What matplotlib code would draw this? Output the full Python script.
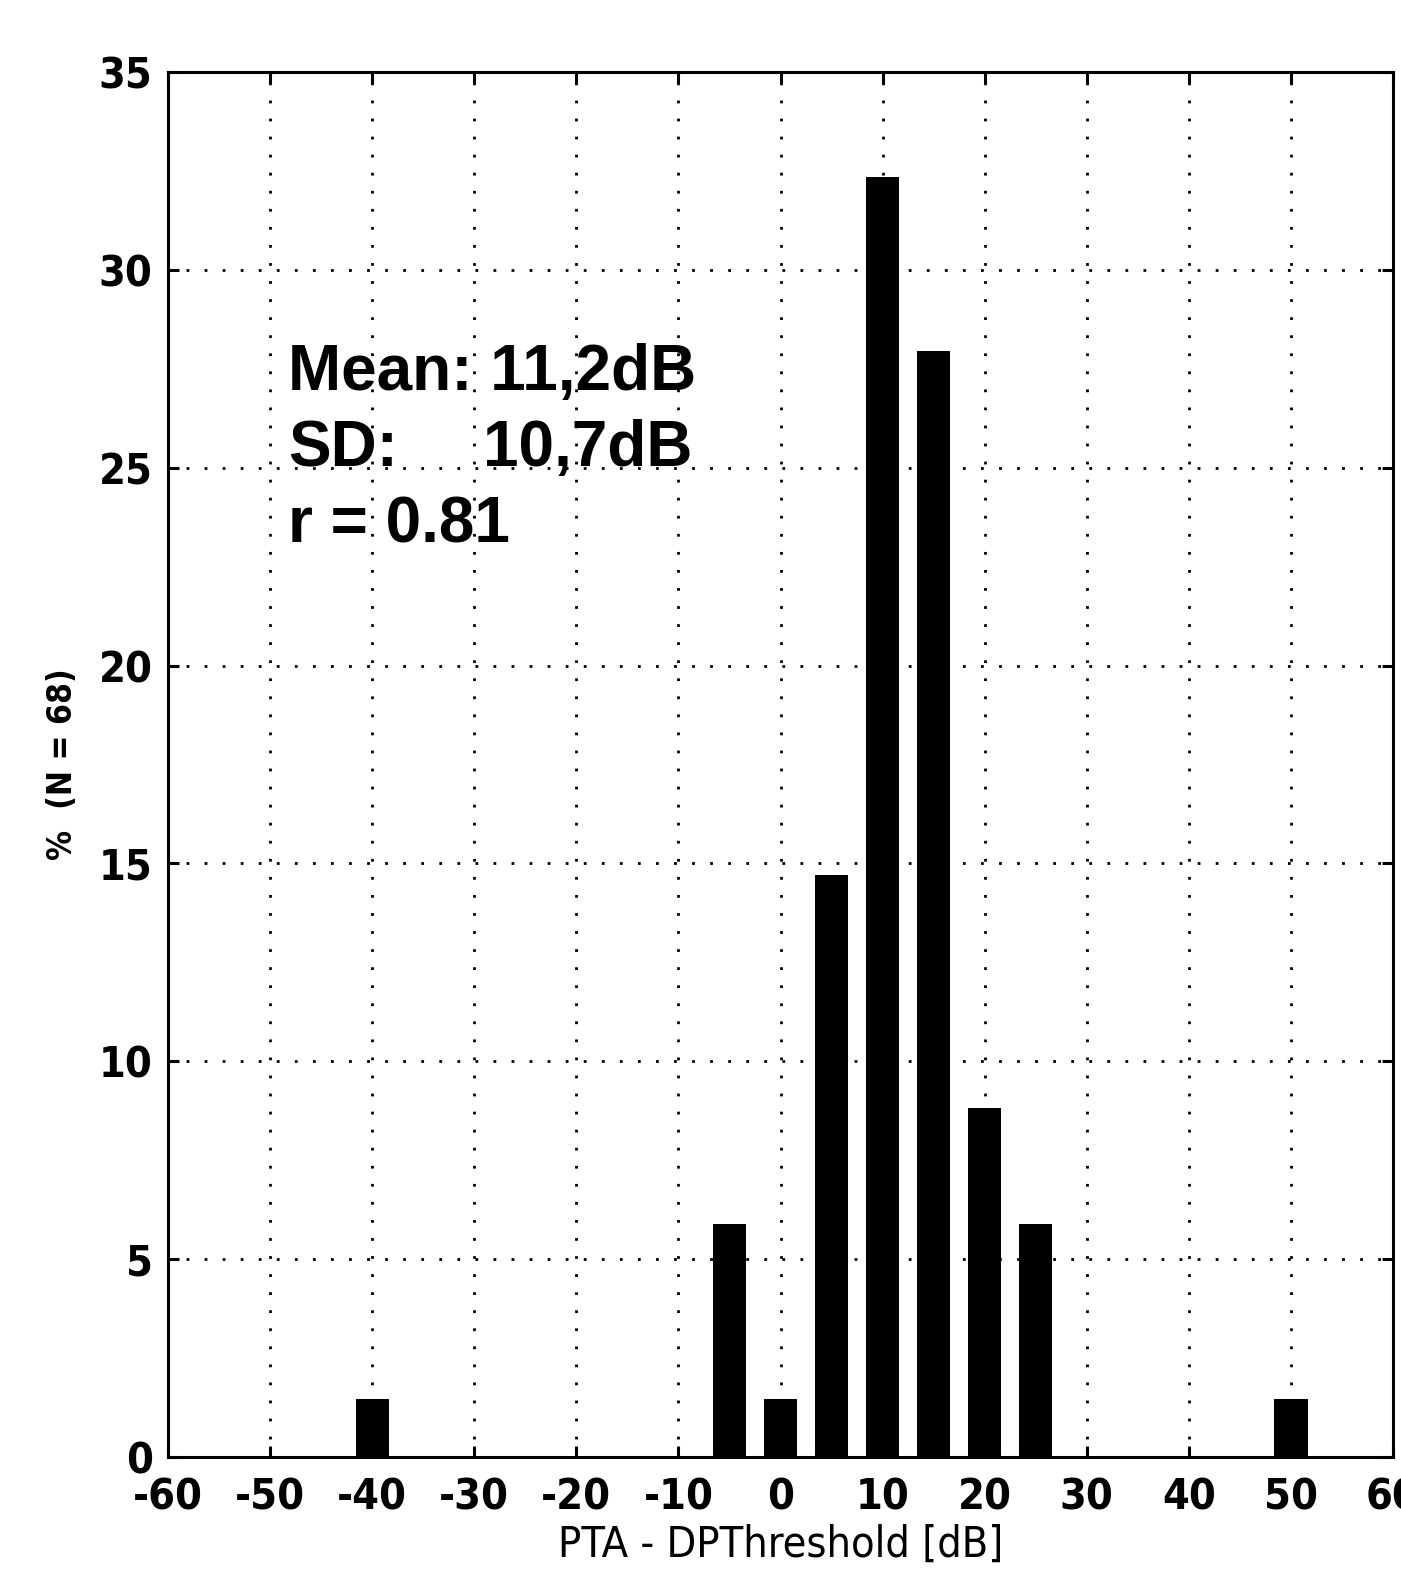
import matplotlib
matplotlib.use('Agg')
import matplotlib.pyplot as plt
from matplotlib import font_manager

# histogram of PTA - DPThreshold differences
bin_centers = [-40, -5, 0, 5, 10, 15, 20, 25, 50]
percent = [1.47, 5.88, 1.47, 14.71, 32.35, 27.94, 8.82, 5.88, 1.47]
x_ticks = list(range(-60, 61, 10))
y_ticks = list(range(0, 36, 5))
stats_lines = ['Mean: 11,2dB', 'SD:', 'r = 0.81']
sd_value = '10,7dB'

plt.rcParams['axes.unicode_minus'] = False
names = {f.name for f in font_manager.fontManager.ttflist}
arial = 'Liberation Sans' if 'Liberation Sans' in names else 'DejaVu Sans'
narrow = dict(family='DejaVu Sans', stretch='condensed')

fig = plt.figure(figsize=(14.01, 15.77), dpi=100)
ax = fig.add_axes([168 / 1401, 1 - 1457 / 1577, (1393 - 168) / 1401, (1457 - 72) / 1577])

ax.bar(bin_centers, percent, width=3.25, color='black', zorder=3)

ax.set_xlim(-60, 60)
ax.set_ylim(0, 35)
ax.set_xticks(x_ticks)
ax.set_yticks(y_ticks)
ax.grid(True, color='black', linestyle=(0, (1, 5.5)), linewidth=2, zorder=0)
ax.tick_params(direction='in', length=8, width=2.2, top=True, right=True,
               labelsize=31, pad=11)
ax.tick_params(axis='x', pad=14)
for lab in ax.get_xticklabels() + ax.get_yticklabels():
    lab.set_fontfamily('DejaVu Sans')
    lab.set_fontstretch('condensed')
    lab.set_fontweight('bold')

for s in ax.spines.values():
    s.set_linewidth(2.2)

ax.set_xlabel('PTA - DPThreshold [dB]', fontsize=31, labelpad=4, **narrow)
ax.set_ylabel('%  (N = 68)', fontsize=24, fontweight='bold', labelpad=14, **narrow)

# stats text block
ys = [26.96, 25.04, 23.1]
for txt, y in zip(stats_lines, ys):
    ax.text(-48.2, y, txt, fontsize=46, family=arial, fontweight='bold',
            ha='left', va='baseline', zorder=4)
ax.text(-29.1, ys[1], sd_value, fontsize=46, family=arial, fontweight='bold',
        ha='left', va='baseline', zorder=4)

fig.savefig('out.png', dpi=100)
